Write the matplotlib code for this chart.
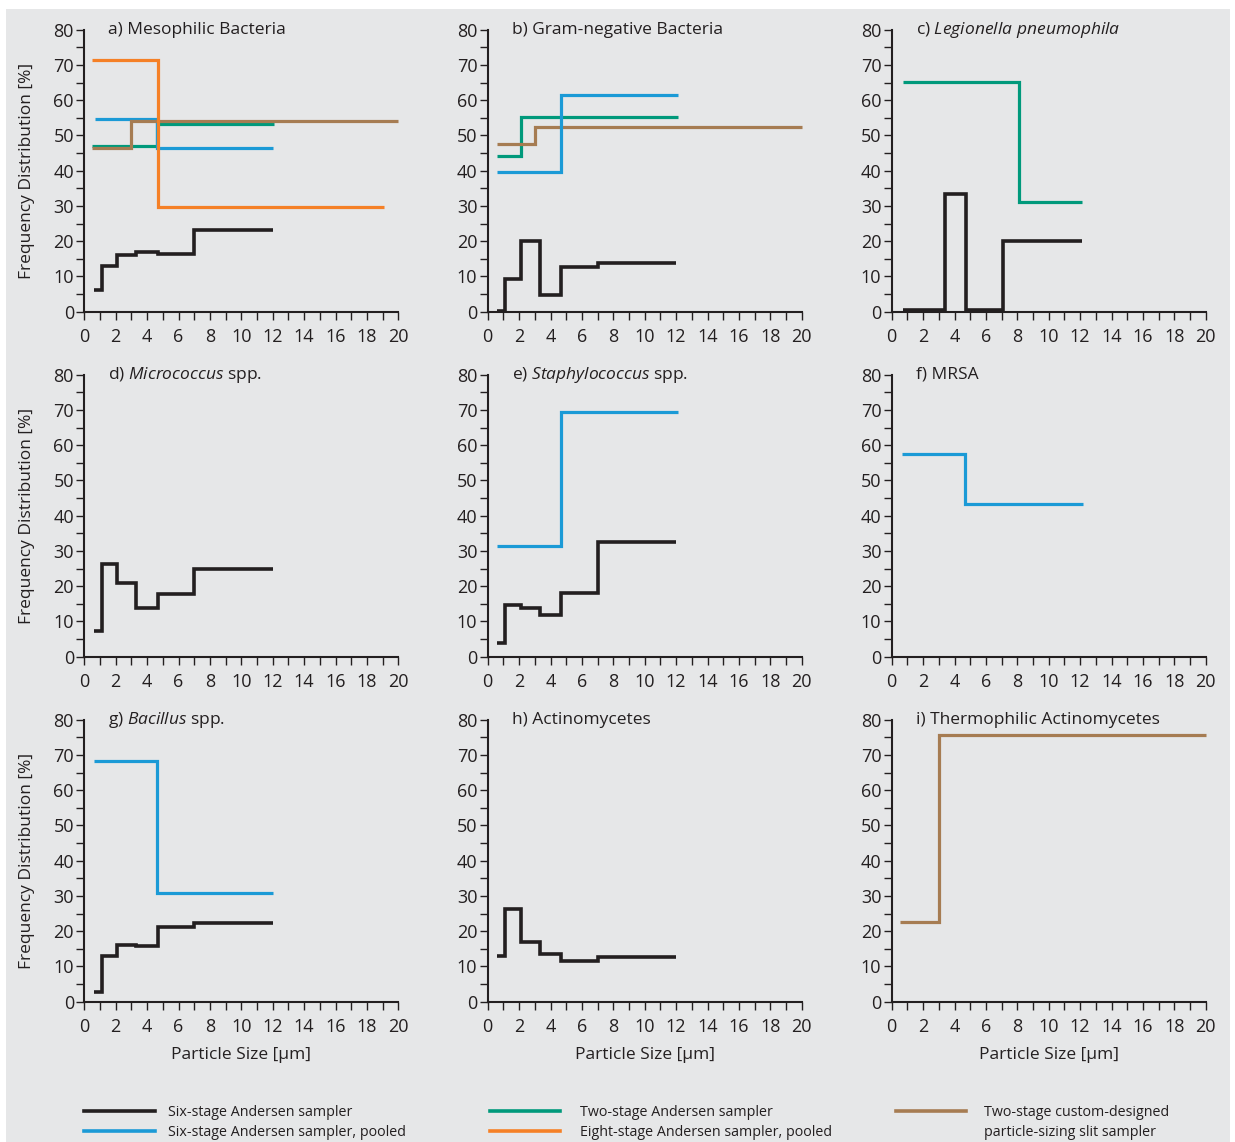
import matplotlib
matplotlib.use('Agg')
import matplotlib.pyplot as plt
from matplotlib.patches import Rectangle
from matplotlib.lines import Line2D
from matplotlib.ticker import MultipleLocator

plt.rcParams['font.family'] = ['Open Sans', 'DejaVu Sans']
plt.rcParams['mathtext.fontset'] = 'custom'
plt.rcParams['mathtext.rm'] = 'Open Sans'
plt.rcParams['mathtext.it'] = 'Open Sans:italic'

# ---------------- data ----------------
six_edges = [0.62, 1.1, 2.1, 3.3, 4.7, 7.0, 12.0]

a_six = [6.1, 12.9, 16.0, 16.8, 16.4, 23.1]
a_pool_edges = [0.65, 4.6, 12.0]
a_pool = [54.8, 46.3]
a_two_edges = [0.5, 4.6, 12.1]
a_two = [47.0, 53.3]
a_eight_edges = [0.5, 4.7, 19.1]
a_eight = [71.3, 29.6]
a_slit_edges = [0.5, 3.0, 20.0]
a_slit = [46.3, 54.0]

b_six = [0.3, 9.3, 20.1, 4.7, 12.7, 13.7]
b_pool_edges = [0.62, 4.7, 12.1]
b_pool = [39.5, 61.6]
b_two_edges = [0.62, 2.1, 12.1]
b_two = [44.3, 55.3]
b_slit_edges = [0.57, 3.0, 20.0]
b_slit = [47.6, 52.3]

c_six_edges = [0.74, 3.42, 4.74, 7.08, 12.1]
c_six = [0.5, 33.5, 0.5, 20.1]
c_two_edges = [0.7, 8.1, 12.1]
c_two = [65.3, 31.0]

d_six = [7.3, 26.2, 20.9, 13.7, 17.7, 24.9]

e_six = [4.0, 14.6, 13.9, 11.8, 18.0, 32.5]
e_pool_edges = [0.62, 4.7, 12.1]
e_pool = [31.4, 69.5]

f_pool_edges = [0.64, 4.7, 12.2]
f_pool = [57.5, 43.3]

g_six = [2.7, 13.1, 16.0, 15.8, 21.2, 22.4]
g_pool_edges = [0.64, 4.6, 12.0]
g_pool = [68.2, 30.8]

h_six = [13.1, 26.3, 16.8, 13.4, 11.5, 12.8]

i_slit_edges = [0.53, 3.0, 20.0]
i_slit = [22.7, 75.7]

titles = ['a) Mesophilic Bacteria', 'b) Gram-negative Bacteria',
          'c) $\\mathit{Legionella\\ pneumophila}$',
          'd) $\\mathit{Micrococcus}$ spp.', 'e) $\\mathit{Staphylococcus}$ spp.',
          'f) MRSA', 'g) $\\mathit{Bacillus}$ spp.', 'h) Actinomycetes',
          'i) Thermophilic Actinomycetes']

legend_labels = ['Six-stage Andersen sampler', 'Six-stage Andersen sampler, pooled',
                 'Two-stage Andersen sampler', 'Eight-stage Andersen sampler, pooled',
                 'Two-stage custom-designed\nparticle-sizing slit sampler']

# ---------------- style ----------------
C_SIX = '#231f20'
C_POOL = '#1b9ad6'
C_TWO = '#00997b'
C_EIGHT = '#f58026'
C_SLIT = '#a67c52'
BG = '#e6e7e8'
AX = '#231f20'

W, H = 1235, 1142
fig = plt.figure(figsize=(W / 100, H / 100), dpi=100, facecolor='white')
fig.patches.append(Rectangle((6 / W, 0), (1230 - 6) / W, 1 - 9 / H,
                             transform=fig.transFigure, facecolor=BG,
                             edgecolor='none', zorder=-10))

lefts = [84.3, 487.7, 891.7]
tops0 = [311.7, 656.7, 1001.7]
aw, ah = 314, 282

panels = [
    [(a_two_edges, a_two, C_TWO, 2.3, 2), (a_pool_edges, a_pool, C_POOL, 2.3, 3),
     (a_slit_edges, a_slit, C_SLIT, 2.3, 4), (a_eight_edges, a_eight, C_EIGHT, 2.3, 5),
     (six_edges, a_six, C_SIX, 2.6, 6)],
    [(b_two_edges, b_two, C_TWO, 2.3, 2), (b_slit_edges, b_slit, C_SLIT, 2.3, 3),
     (b_pool_edges, b_pool, C_POOL, 2.3, 4), (six_edges, b_six, C_SIX, 2.6, 6)],
    [(c_two_edges, c_two, C_TWO, 2.3, 2), (c_six_edges, c_six, C_SIX, 2.6, 6)],
    [(six_edges, d_six, C_SIX, 2.6, 6)],
    [(e_pool_edges, e_pool, C_POOL, 2.3, 4), (six_edges, e_six, C_SIX, 2.6, 6)],
    [(f_pool_edges, f_pool, C_POOL, 2.3, 4)],
    [(g_pool_edges, g_pool, C_POOL, 2.3, 4), (six_edges, g_six, C_SIX, 2.6, 6)],
    [(six_edges, h_six, C_SIX, 2.6, 6)],
    [(i_slit_edges, i_slit, C_SLIT, 2.3, 4)],
]

for k in range(9):
    r, c = divmod(k, 3)
    ax = fig.add_axes([lefts[c] / W, 1 - tops0[r] / H, aw / W, ah / H])
    ax.set_facecolor('none')
    for edges, vals, col, lw, z in panels[k]:
        ax.stairs(vals, edges, baseline=None, color=col, linewidth=lw,
                  zorder=z, clip_on=False)
    ax.set_xlim(0, 20)
    ax.set_ylim(0, 80)
    for s in ['top', 'right']:
        ax.spines[s].set_visible(False)
    for s in ['left', 'bottom']:
        ax.spines[s].set_linewidth(1.5)
        ax.spines[s].set_color(AX)
    ax.xaxis.set_major_locator(MultipleLocator(2))
    ax.xaxis.set_minor_locator(MultipleLocator(1))
    ax.yaxis.set_major_locator(MultipleLocator(10))
    ax.yaxis.set_minor_locator(MultipleLocator(5))
    ax.tick_params(which='both', direction='out', length=5.5, width=1.0,
                   color=AX, labelcolor=AX, labelsize=13)
    ax.tick_params(axis='x', pad=6)
    ax.tick_params(axis='y', pad=2)
    ax.text(0.076, 1.0, titles[k], transform=ax.transAxes, fontsize=12.5,
            color=AX, va='center', ha='left')
    if c == 0:
        ax.set_ylabel('Frequency Distribution [%]', fontsize=12.5, color=AX,
                      labelpad=13)
    if r == 2:
        ax.set_xlabel('Particle Size [µm]', fontsize=12.5, color=AX, labelpad=8)

# ---------------- legend ----------------
leg_items = [
    (84, 155, 168, 1111, C_SIX, legend_labels[0]),
    (84, 155, 168, 1131, C_POOL, legend_labels[1]),
    (490, 560, 580, 1111, C_TWO, legend_labels[2]),
    (490, 560, 580, 1131, C_EIGHT, legend_labels[3]),
]
for x0, x1, xt, y, col, lab in leg_items:
    fig.add_artist(Line2D([x0 / W, x1 / W], [1 - y / H, 1 - y / H], color=col,
                          linewidth=2.6, transform=fig.transFigure))
    fig.text(xt / W, 1 - (y + 1) / H, lab, fontsize=10.3, color=AX,
             va='center', ha='left')
fig.add_artist(Line2D([896 / W, 966 / W], [1 - 1111 / H, 1 - 1111 / H], color=C_SLIT,
                      linewidth=2.6, transform=fig.transFigure))
l1, l2 = legend_labels[4].split('\n')
fig.text(984 / W, 1 - 1112 / H, l1, fontsize=10.3, color=AX, va='center', ha='left')
fig.text(984 / W, 1 - 1132 / H, l2, fontsize=10.3, color=AX, va='center', ha='left')

fig.savefig('out.png', dpi=100, facecolor='white')
